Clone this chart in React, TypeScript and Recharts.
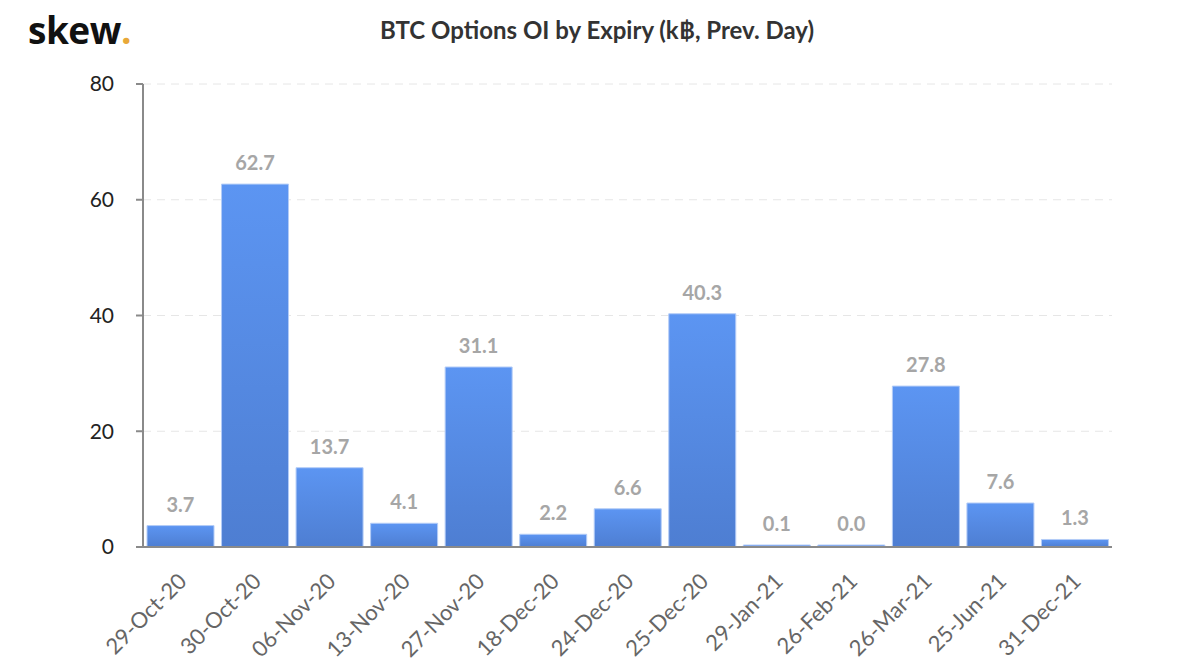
import React from 'react';
import { Bar, BarChart, CartesianGrid, LabelList, XAxis, YAxis } from 'recharts';

// Échéances et open interest (k฿).
const EXPIRIES: string[] = [
  '29-Oct-20',
  '30-Oct-20',
  '06-Nov-20',
  '13-Nov-20',
  '27-Nov-20',
  '18-Dec-20',
  '24-Dec-20',
  '25-Dec-20',
  '29-Jan-21',
  '26-Feb-21',
  '26-Mar-21',
  '25-Jun-21',
  '31-Dec-21',
];
const OPEN_INTEREST: number[] = [3.7, 62.7, 13.7, 4.1, 31.1, 2.2, 6.6, 40.3, 0.1, 0.03, 27.8, 7.6, 1.3];
const Y_TICKS: number[] = [0, 20, 40, 60, 80];

const FONT = 'Lato, "Open Sans", sans-serif';

const data = EXPIRIES.map((expiry, i) => ({ expiry, oi: OPEN_INTEREST[i] }));

function RotatedTick({ x, y, payload }: { x?: number; y?: number; payload?: { value: string } }) {
  return (
    <g transform={`translate(${(x ?? 0) + 2},${(y ?? 0) + 22})`}>
      <text
        x={0}
        y={0}
        dy={8}
        textAnchor="end"
        transform="rotate(-45)"
        fill="#666"
        fontSize={22}
        fontFamily={FONT}
      >
        {payload?.value}
      </text>
    </g>
  );
}

export default function App() {
  return (
    <div style={{ position: 'absolute', left: 0, top: 0, width: 1200, height: 670, background: '#fff', fontFamily: FONT }}>
      <div
        style={{
          position: 'absolute',
          left: 28,
          top: 4,
          fontSize: 37,
          fontWeight: 700,
          color: '#111',
          letterSpacing: -0.5,
          fontFamily: '"Open Sans", sans-serif',
        }}
      >
        skew<span style={{ color: '#E8A838' }}>.</span>
      </div>
      <div
        style={{
          position: 'absolute',
          left: 0,
          width: 1194,
          top: 15,
          textAlign: 'center',
          fontSize: 24,
          fontWeight: 700,
          color: '#333',
        }}
      >
        BTC Options OI by Expiry (k฿, Prev. Day)
      </div>
      <BarChart
        width={1200}
        height={670}
        data={data}
        margin={{ top: 84, right: 88, bottom: 0, left: 0 }}
        barCategoryGap={4}
      >
        <defs>
          <linearGradient id="barFill" x1="0" y1="0" x2="0" y2="1">
            <stop offset="0%" stopColor="#5C95F2" />
            <stop offset="100%" stopColor="#4E7ED2" />
          </linearGradient>
        </defs>
        <CartesianGrid stroke="#e6e6e6" strokeDasharray="8 6" vertical={false} />
        <XAxis
          dataKey="expiry"
          interval={0}
          height={123}
          tickLine={false}
          axisLine={{ stroke: '#8a8a8a', strokeWidth: 2 }}
          tick={<RotatedTick />}
        />
        <YAxis
          width={143}
          domain={[0, 80]}
          ticks={Y_TICKS}
          tickSize={7}
          tickMargin={22}
          axisLine={{ stroke: '#8a8a8a', strokeWidth: 2 }}
          tickLine={{ stroke: '#8a8a8a', strokeWidth: 2 }}
          tick={{ fill: '#222', fontSize: 21, fontFamily: FONT }}
        />
        <Bar
          dataKey="oi"
          fill="url(#barFill)"
          stroke="#b3ccf7"
          strokeWidth={1}
          minPointSize={2}
          isAnimationActive={false}
        >
          <LabelList
            dataKey="oi"
            position="top"
            offset={14}
            fill="#a6a6a6"
            fontSize={20}
            fontWeight={700}
            fontFamily={FONT}
            formatter={(v: unknown) => Number(v).toFixed(1)}
          />
        </Bar>
      </BarChart>
    </div>
  );
}
